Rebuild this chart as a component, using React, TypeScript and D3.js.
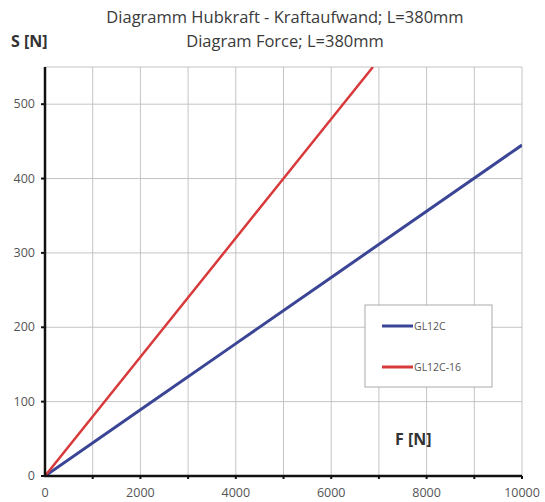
import React from "react";
import * as d3 from "d3";

const titleLines = ["Diagramm Hubkraft - Kraftaufwand; L=380mm", "Diagram Force; L=380mm"];
const xTicks = [0, 2000, 4000, 6000, 8000, 10000];
const xGrid = [1000, 2000, 3000, 4000, 5000, 6000, 7000, 8000, 9000, 10000];
const yTicks = [0, 100, 200, 300, 400, 500];
const seriesNames = ["GL12C", "GL12C-16"];
const blueF = [0, 2000, 4000, 6000, 8000, 10000];
const blueS = [0, 89, 178, 267, 356, 445];
const redF = [0, 1000, 2000, 3000, 4000, 5000, 6000, 6875];
const redS = [0, 80, 160, 240, 320, 400, 480, 550];

export default function App() {
  const W = 545, H = 502;
  const x = d3.scaleLinear().domain([0, 10000]).range([45, 522]);
  const y = d3.scaleLinear().domain([0, 550]).range([476, 67]);
  const line = d3.line<[number, number]>().x(d => x(d[0])).y(d => y(d[1]));
  const blue = blueF.map((f, i) => [f, blueS[i]] as [number, number]);
  const red = redF.map((f, i) => [f, redS[i]] as [number, number]);
  const font = "'Open Sans', 'DejaVu Sans', sans-serif";
  const tickFont = "'Open Sans', 'Liberation Sans', Arial, sans-serif";
  return (
    <svg width={W} height={H} style={{ position: "absolute", left: 0, top: 0, background: "#fff" }}>
      <rect x={0} y={0} width={W} height={H} fill="#fff" />
      <defs>
        <clipPath id="plot">
          <rect x={x(0)} y={y(550)} width={x(10000) - x(0)} height={y(0) - y(550)} />
        </clipPath>
      </defs>
      {xGrid.map(v => (
        <line key={"gx" + v} x1={x(v)} x2={x(v)} y1={y(0)} y2={y(550)} stroke="#c4c4c4" strokeWidth={1} />
      ))}
      {yTicks.filter(v => v > 0).map(v => (
        <line key={"gy" + v} x1={x(0)} x2={x(10000)} y1={y(v)} y2={y(v)} stroke="#c4c4c4" strokeWidth={1} />
      ))}
      <line x1={x(0)} x2={x(10000)} y1={y(550)} y2={y(550)} stroke="#c4c4c4" strokeWidth={1} />
      <g clipPath="url(#plot)">
        <path d={line(blue) || ""} fill="none" stroke="#3b4596" strokeWidth={3} />
        <path d={line(red) || ""} fill="none" stroke="#d8393a" strokeWidth={2.5} />
      </g>
      <line x1={x(0)} x2={x(0)} y1={y(0) + 1} y2={y(550)} stroke="#111" strokeWidth={2.5} />
      <line x1={x(0) - 1} x2={x(10000)} y1={y(0)} y2={y(0)} stroke="#111" strokeWidth={2.5} />
      {xGrid.map(v => (
        <line key={"tx" + v} x1={x(v)} x2={x(v)} y1={y(0)} y2={y(0) + 3} stroke="#111" strokeWidth={2} />
      ))}
      {yTicks.map(v => (
        <line key={"ty" + v} x1={x(0) - 4} x2={x(0)} y1={y(v)} y2={y(v)} stroke="#111" strokeWidth={2} />
      ))}
      {xTicks.map(v => (
        <text key={"lx" + v} x={x(v)} y={y(0) + 21} textAnchor="middle" fontFamily={tickFont} fontSize={12.5} fill="#555">
          {v}
        </text>
      ))}
      {yTicks.map(v => (
        <text key={"ly" + v} x={x(0) - 10} y={y(v) + 4} textAnchor="end" fontFamily={tickFont} fontSize={12.5} fill="#555">
          {v}
        </text>
      ))}
      {titleLines.map((t, i) => (
        <text key={"t" + i} x={285} y={23 + i * 24} textAnchor="middle" fontFamily={font} fontSize={16.5} fill="#3a3a3a">
          {t}
        </text>
      ))}
      <text x={11} y={47} fontFamily={font} fontSize={16} fontWeight="bold" fill="#333">S [N]</text>
      <text x={395} y={445} fontFamily={font} fontSize={16} fontWeight="bold" fill="#333">F [N]</text>
      <rect x={365} y={305} width={127} height={82} fill="#fff" stroke="#aaa" strokeWidth={1} />
      {seriesNames.map((n, i) => (
        <g key={n}>
          <line x1={382} x2={413} y1={326 + i * 41} y2={326 + i * 41} stroke={i === 0 ? "#3b4596" : "#d8393a"} strokeWidth={3} />
          <text x={414} y={330 + i * 41} fontFamily={tickFont} fontSize={10.5} fill="#555">{n}</text>
        </g>
      ))}
    </svg>
  );
}
